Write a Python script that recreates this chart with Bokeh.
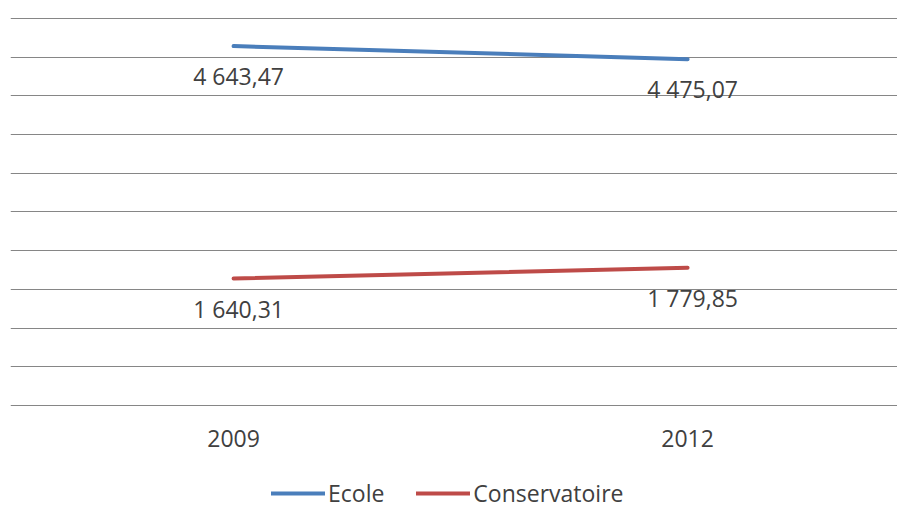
from bokeh.plotting import figure
from bokeh.models import Range1d, FixedTicker, SingleIntervalTicker, Legend, LegendItem, ColumnDataSource
from bokeh.core.properties import value
from bokeh.embed import file_html
from bokeh.resources import INLINE

# ---- data ----
years = [2009, 2012]
year_labels = ["2009", "2012"]
ecole = [4643.47, 4475.07]
conservatoire = [1640.31, 1779.85]
series_names = ["Ecole", "Conservatoire"]


def fr(v):
    return f"{v:,.2f}".replace(",", " ").replace(".", ",")


FONT = "Open Sans"
TEXT_COLOR = "#404040"
BLUE = "#4A7EBB"
RED = "#BE4B48"

p = figure(width=897, height=509, output_backend="svg", toolbar_location=None,
           x_range=Range1d(2007.526, 2013.387), y_range=Range1d(-1343.7, 5012.9),
           min_border_left=10, min_border_right=0, min_border_top=17, min_border_bottom=0)
p.outline_line_color = None
p.background_fill_color = "white"
p.border_fill_color = "white"

# axes
p.yaxis.visible = False
xa = p.xaxis[0]
xa.fixed_location = 0
xa.ticker = FixedTicker(ticks=years)
xa.major_label_overrides = {y: l for y, l in zip(years, year_labels)}
xa.axis_line_color = None
xa.major_tick_line_color = None
xa.minor_tick_line_color = None
xa.major_tick_out = 0
xa.major_tick_in = 0
xa.major_label_standoff = 25
xa.major_label_text_font = FONT
xa.major_label_text_font_size = "23px"
xa.major_label_text_color = TEXT_COLOR

# grid
p.xgrid.visible = False
p.ygrid.ticker = SingleIntervalTicker(interval=500)
p.ygrid.bounds = (0, 5000)
p.ygrid.grid_line_color = "#868686"
p.ygrid.grid_line_width = 1

items = []
for name, vals, col in [(series_names[0], ecole, BLUE), (series_names[1], conservatoire, RED)]:
    src = ColumnDataSource(dict(x=years, y=vals, lab=[fr(v) for v in vals]))
    r = p.line("x", "y", source=src, line_color=col, line_width=4, line_cap="round")
    p.text("x", "y", text="lab", source=src, x_offset=5, y_offset=30,
           text_align="center", text_baseline="middle",
           text_font=value(FONT), text_font_size="23px", text_color=TEXT_COLOR)
    items.append(LegendItem(label=name, renderers=[r]))

legend = Legend(items=items, orientation="horizontal", location=(261, 0),
                glyph_width=54, glyph_height=20, label_standoff=3, spacing=32,
                padding=0, margin=0, border_line_color=None, background_fill_alpha=0,
                label_text_font=FONT, label_text_font_size="23px", label_text_color=TEXT_COLOR)
p.add_layout(legend, "center")

open("out.html", "w").write(file_html(p, INLINE))
